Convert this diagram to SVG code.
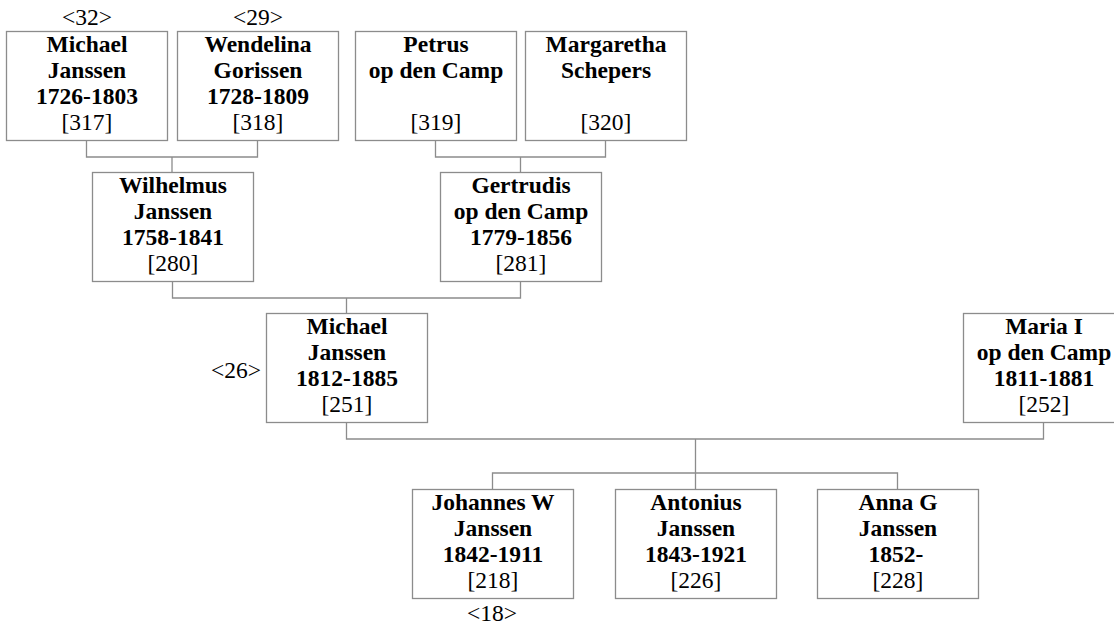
<svg xmlns="http://www.w3.org/2000/svg" width="1114" height="628" viewBox="0 0 1114 628">
<style>
.box{fill:#fff;stroke:#8c8c8c;stroke-width:1.3}
.c{fill:none;stroke:#8c8c8c;stroke-width:1.3}
text{font-size:23.5px;fill:#000;text-anchor:middle}
.b{font-weight:bold}
</style>
<rect width="1114" height="628" fill="#fff"/>
<g id="connectors">
<path class="c" d="M86.5 140.5V157H257.5V140.5M172 157V172"/>
<path class="c" d="M435.5 140.5V157H605.5V140.5M520.5 157V172"/>
<path class="c" d="M172.5 281.5V298H520.5V281.5M346.5 298V313"/>
<path class="c" d="M346.5 422.5V439H1043.5V422.5M695.5 439V489"/>
<path class="c" d="M492.5 489V473H897.5V489"/>
</g>
<g font-family="Liberation Serif, Tinos, DejaVu Serif, serif">
<g id="n317"><rect class="box" x="6.5" y="31.5" width="161" height="109"/><text x="87" y="52" class="b">Michael</text><text x="87" y="78" class="b">Janssen</text><text x="87" y="104" class="b">1726-1803</text><text x="87" y="130">[317]</text><text x="87" y="25">&lt;32&gt;</text></g>
<g id="n318"><rect class="box" x="177.5" y="31.5" width="161" height="109"/><text x="258" y="52" class="b">Wendelina</text><text x="258" y="78" class="b">Gorissen</text><text x="258" y="104" class="b">1728-1809</text><text x="258" y="130">[318]</text><text x="258" y="25">&lt;29&gt;</text></g>
<g id="n319"><rect class="box" x="355.5" y="31.5" width="161" height="109"/><text x="436" y="52" class="b">Petrus</text><text x="436" y="78" class="b">op den Camp</text><text x="436" y="130">[319]</text></g>
<g id="n320"><rect class="box" x="525.5" y="31.5" width="161" height="109"/><text x="606" y="52" class="b">Margaretha</text><text x="606" y="78" class="b">Schepers</text><text x="606" y="130">[320]</text></g>
<g id="n280"><rect class="box" x="92.5" y="172.5" width="161" height="109"/><text x="173" y="193" class="b">Wilhelmus</text><text x="173" y="219" class="b">Janssen</text><text x="173" y="245" class="b">1758-1841</text><text x="173" y="271">[280]</text></g>
<g id="n281"><rect class="box" x="440.5" y="172.5" width="161" height="109"/><text x="521" y="193" class="b">Gertrudis</text><text x="521" y="219" class="b">op den Camp</text><text x="521" y="245" class="b">1779-1856</text><text x="521" y="271">[281]</text></g>
<g id="n251"><rect class="box" x="266.5" y="313.5" width="161" height="109"/><text x="347" y="334" class="b">Michael</text><text x="347" y="360" class="b">Janssen</text><text x="347" y="386" class="b">1812-1885</text><text x="347" y="412">[251]</text><text x="261" y="378" style="text-anchor:end">&lt;26&gt;</text></g>
<g id="n252"><rect class="box" x="963.5" y="313.5" width="161" height="109"/><text x="1044" y="334" class="b">Maria I</text><text x="1044" y="360" class="b">op den Camp</text><text x="1044" y="386" class="b">1811-1881</text><text x="1044" y="412">[252]</text></g>
<g id="n218"><rect class="box" x="412.5" y="489.5" width="161" height="109"/><text x="493" y="510" class="b">Johannes W</text><text x="493" y="536" class="b">Janssen</text><text x="493" y="562" class="b">1842-1911</text><text x="493" y="588">[218]</text><text x="492" y="621">&lt;18&gt;</text></g>
<g id="n226"><rect class="box" x="615.5" y="489.5" width="161" height="109"/><text x="696" y="510" class="b">Antonius</text><text x="696" y="536" class="b">Janssen</text><text x="696" y="562" class="b">1843-1921</text><text x="696" y="588">[226]</text></g>
<g id="n228"><rect class="box" x="817.5" y="489.5" width="161" height="109"/><text x="898" y="510" class="b">Anna G</text><text x="898" y="536" class="b">Janssen</text><text x="896" y="562" class="b">1852-</text><text x="898" y="588">[228]</text></g>
</g>
</svg>
